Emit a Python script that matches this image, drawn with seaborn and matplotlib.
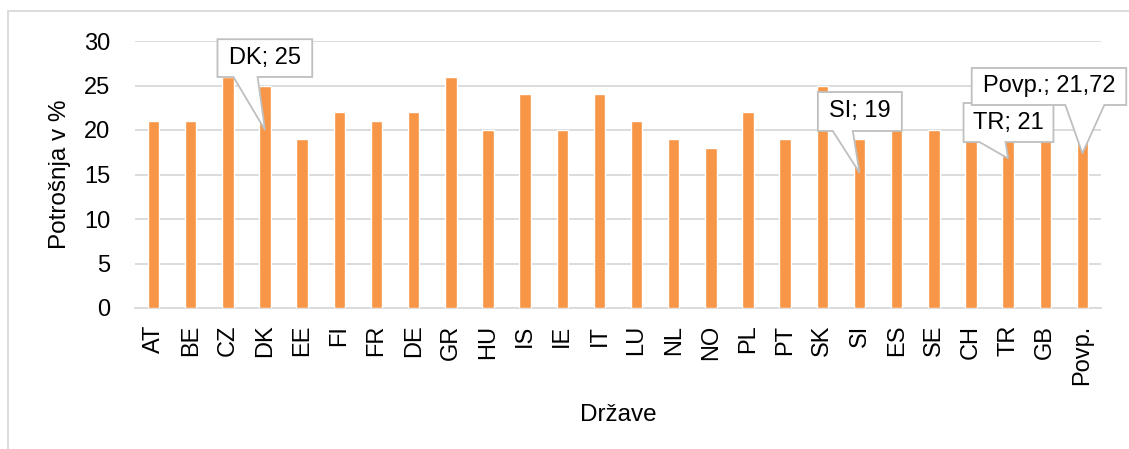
import matplotlib
matplotlib.use("Agg")
import matplotlib.pyplot as plt
from matplotlib.patches import Polygon, Rectangle
import seaborn as sns
import pandas as pd

countries = ["AT", "BE", "CZ", "DK", "EE", "FI", "FR", "DE", "GR", "HU", "IS", "IE", "IT",
             "LU", "NL", "NO", "PL", "PT", "SK", "SI", "ES", "SE", "CH", "TR", "GB", "Povp."]
values = [21, 21, 26, 25, 19, 22, 21, 22, 26, 20, 24, 20, 24,
          21, 19, 18, 22, 19, 25, 19, 23, 20, 22, 21, 23, 21.72]
yticks = [0, 5, 10, 15, 20, 25, 30]
callout_labels = ["DK; 25", "SI; 19", "TR; 21", "Povp.; 21,72"]

df = pd.DataFrame({"Država": countries, "Potrošnja": values})

sns.set_theme(style="white")
plt.rcParams["font.family"] = ["Liberation Sans", "DejaVu Sans"]

W, H = 1129, 449
fig = plt.figure(figsize=(W / 100, H / 100), dpi=100)
ax = fig.add_axes([135 / W, 1 - 308 / H, (1101 - 135) / W, (308 - 41) / H])

sns.barplot(data=df, x="Država", y="Potrošnja", color="#F79646", saturation=1,
            width=0.31, ax=ax, zorder=3)

ax.set_ylim(0, 30)
ax.set_xlim(-0.5, len(countries) - 0.5)
ax.set_yticks(yticks)
ax.set_yticklabels([str(t) for t in yticks])
ax.yaxis.grid(True, color="#D9D9D9", linewidth=1.3, zorder=0)
ax.set_axisbelow(True)
for s in ["top", "right", "left"]:
    ax.spines[s].set_visible(False)
ax.spines["bottom"].set_color("#D9D9D9")
ax.spines["bottom"].set_linewidth(1.3)
ax.tick_params(axis="y", length=0, pad=18, labelsize=17, labelcolor="black")
ax.tick_params(axis="x", length=0, pad=12, labelsize=17, labelcolor="black", rotation=90)
lab_font = dict(fontsize=17.5, color="black")
ax.set_xlabel("Države", labelpad=14, **lab_font)
ax.set_ylabel("Potrošnja v %", labelpad=9, **lab_font)

# callouts: (label, bar index, box left/right offsets, box bottom/top, pointer base offsets)
callouts = [
    (callout_labels[0], 3, (-1.28, 1.27), (25.96, 30.2), (-0.85, -0.2)),
    (callout_labels[1], 19, (-1.12, 1.14), (19.89, 24.27), (-0.72, -0.18)),
    (callout_labels[2], 23, (-1.2, 1.22), (18.65, 23.03), (-0.77, -0.07)),
    (callout_labels[3], 25, (-2.98, 1.18), (22.81, 26.97), (-0.46, 0.59)),
]
for k, (lab, i, (dx0, dx1), (y0, y1), (b0, b1)) in enumerate(callouts):
    tip = (i, values[i] * 0.8)
    x0, x1 = i + dx0, i + dx1
    verts = [(x0, y0), (i + b0, y0), tip, (i + b1, y0), (x1, y0), (x1, y1), (x0, y1)]
    poly = Polygon(verts, closed=True, facecolor="white", edgecolor="#BFBFBF",
                   linewidth=1.3, zorder=5 + 2 * k, clip_on=False, joinstyle="miter")
    ax.add_patch(poly)
    ax.text((x0 + x1) / 2, (y0 + y1) / 2, lab, ha="center", va="center",
            fontsize=17, color="black", zorder=6 + 2 * k, clip_on=False)

# chart area border
fig.patches.append(Rectangle((8 / W, -0.1), 1.2, 1 - 11 / H + 0.1, transform=fig.transFigure,
                             fill=False, edgecolor="#D9D9D9", linewidth=1.3, zorder=0))

fig.savefig("out.png", dpi=100)
